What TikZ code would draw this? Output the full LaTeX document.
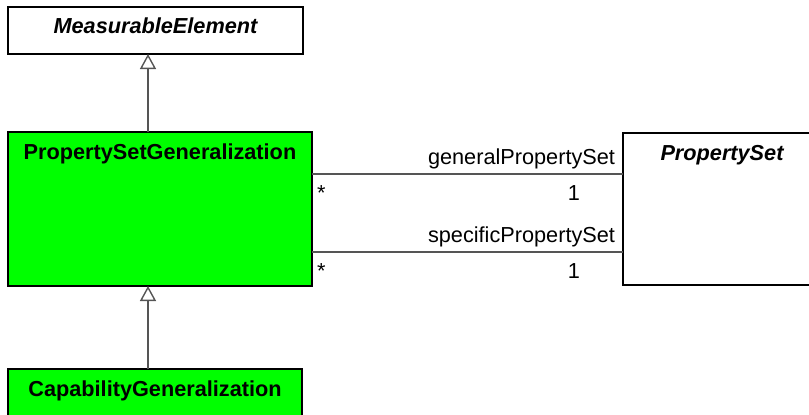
\documentclass[tikz,border=0pt]{standalone}
\usepackage{fontspec}
\setmainfont{Liberation Sans}
\usetikzlibrary{arrows.meta,calc}
\definecolor{umlgreen}{HTML}{00FF00}
\definecolor{linegray}{HTML}{555555}
\begin{document}
\begin{tikzpicture}[x=1pt,y=-1pt,
  every node/.style={font=\fontsize{21.7}{26}\selectfont, inner sep=0pt, outer sep=0pt},
  classbox/.style={draw=black, line width=1.8pt, anchor=north west, fill=white},
  greenbox/.style={classbox, fill=umlgreen},
  classname/.style={anchor=base, font=\fontsize{21.7}{26}\selectfont\bfseries},
  abstractname/.style={anchor=base, font=\fontsize{21.7}{26}\selectfont\bfseries\itshape},
  assoc/.style={draw=linegray, line width=1.6pt},
  gen/.style={draw=linegray, line width=1.6pt, -{Triangle[open, length=15pt, width=16pt, line width=1.4pt, fill=white]}},
  lbl/.style={anchor=base east},
  mult/.style={anchor=base west}]
\useasboundingbox (0,0) rectangle (809,415);

\node[classbox, minimum width=295pt, minimum height=47pt] (me) at (8,7) {};
\node[greenbox, minimum width=304pt, minimum height=154pt] (psg) at (8,132) {};
\node[greenbox, minimum width=294pt, minimum height=48pt] (cg) at (8,369) {};
\node[classbox, minimum width=198pt, minimum height=152pt] (ps) at (623,133) {};

\node[abstractname] (mename) at ($(me.north)+(0,27)$) {MeasurableElement};
\node[classname] (psgname) at ($(psg.north)+(0,27)$) {PropertySetGeneralization};
\node[classname] (cgname) at ($(cg.north)+(0,27)$) {CapabilityGeneralization};
\node[abstractname] (psname) at ($(ps.north)+(0,27)$) {PropertySet};

% generalizations
\coordinate (g1) at ($(psg.north west)+(140,0)$);
\draw[gen] (g1) -- (g1 |- me.south);
\coordinate (g2) at ($(cg.north west)+(140,0)$);
\draw[gen] (g2) -- (g2 |- psg.south);

% associations
\coordinate (a1) at ($(psg.north east)+(0,42)$);
\coordinate (a2) at ($(psg.north east)+(0,120)$);
\draw[assoc] (a1) -- (ps.west |- a1);
\draw[assoc] (a2) -- (ps.west |- a2);

\node[lbl] (r1) at ($(ps.west |- a1)+(-8,-9.5)$) {generalPropertySet};
\node[lbl] (m1) at ($(ps.west |- a1)+(-43,26)$) {1};
\node[mult] (s1) at ($(a1)+(5,26)$) {*};
\node[lbl] (r2) at ($(ps.west |- a2)+(-8,-9.5)$) {specificPropertySet};
\node[lbl] (m2) at ($(ps.west |- a2)+(-43,26)$) {1};
\node[mult] (s2) at ($(a2)+(5,26)$) {*};
\end{tikzpicture}
\end{document}
